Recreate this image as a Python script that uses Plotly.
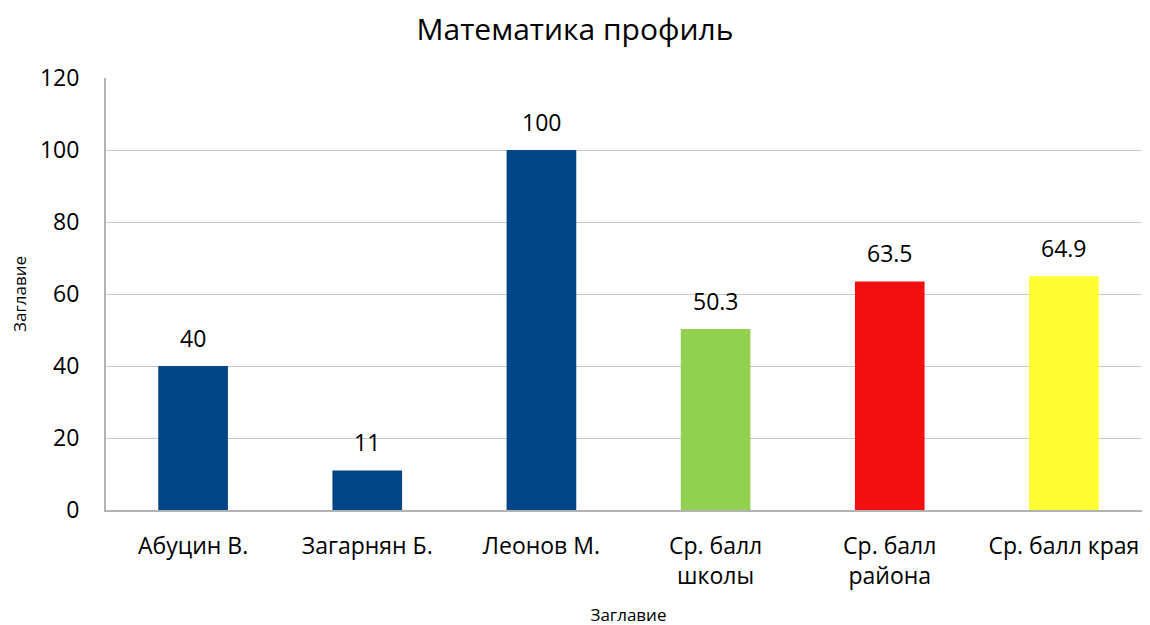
import plotly.graph_objects as go

categories = ["Абуцин В.", "Загарнян Б.", "Леонов М.", "Ср. балл<br>школы", "Ср. балл<br>района", "Ср. балл края"]
values = [40, 11, 100, 50.3, 63.5, 64.9]
labels = ["40", "11", "100", "50.3", "63.5", "64.9"]
colors = ["#004586", "#004586", "#004586", "#92D050", "#F20F0F", "#FFFF33"]
y_ticks = [0, 20, 40, 60, 80, 100, 120]

FONT = "Open Sans, Noto Sans, sans-serif"

fig = go.Figure()
fig.add_trace(go.Bar(
    x=categories, y=values, marker=dict(color=colors, line=dict(width=0)),
    width=0.4, showlegend=False, hoverinfo="skip",
))

for c, v, t in zip(categories, values, labels):
    fig.add_annotation(x=c, y=v, text=t, showarrow=False, yanchor="bottom",
                       yshift=10, font=dict(size=23, color="#000000", family=FONT))

fig.update_layout(
    width=1150, height=625,
    margin=dict(l=98, r=7, t=70, b=123),
    paper_bgcolor="white", plot_bgcolor="white",
    title=dict(text="Математика профиль", x=0.493, xanchor="center", y=0.982, yanchor="top",
               font=dict(size=30, color="#000000", family=FONT)),
    font=dict(family=FONT, color="#000000"),
)
fig.update_xaxes(
    automargin=False,
    showline=True, linecolor="#b3b3b3", linewidth=2, showgrid=False,
    tickfont=dict(size=23, family=FONT), ticks="outside", ticklen=14, tickcolor="rgba(0,0,0,0)",
    title=dict(text="Заглавие", font=dict(size=17, family=FONT), standoff=20),
)
fig.update_yaxes(
    automargin=False,
    range=[0, 120], tickvals=y_ticks, showline=True, linecolor="#b3b3b3", linewidth=2,
    showgrid=True, gridcolor="#c8c8c8", gridwidth=1, zeroline=False,
    tickfont=dict(size=23, family=FONT), ticks="outside", ticklen=20, tickcolor="rgba(0,0,0,0)",
    title=dict(text="Заглавие", font=dict(size=17, family=FONT), standoff=20),
)

fig.write_html("out.html")
